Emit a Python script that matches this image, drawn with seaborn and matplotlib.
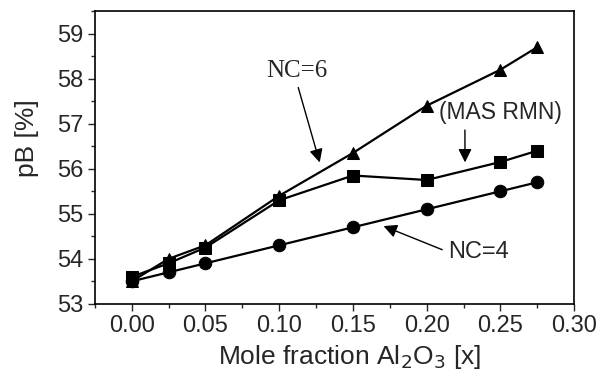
import matplotlib
matplotlib.use("Agg")
import matplotlib.pyplot as plt
import seaborn as sns
import pandas as pd
from matplotlib.ticker import MultipleLocator

x_vals = [0.0, 0.025, 0.05, 0.10, 0.15, 0.20, 0.25, 0.275]
nc6 = [53.5, 54.0, 54.3, 55.4, 56.35, 57.4, 58.2, 58.7]
mas = [53.6, 53.9, 54.25, 55.3, 55.85, 55.75, 56.15, 56.4]
nc4 = [53.5, 53.7, 53.9, 54.3, 54.7, 55.1, 55.5, 55.7]
x_ticks = [0.00, 0.05, 0.10, 0.15, 0.20, 0.25, 0.30]
y_ticks = [53, 54, 55, 56, 57, 58, 59]

sns.set_style("ticks")
plt.rcParams['font.family'] = ['Liberation Sans', 'DejaVu Sans']

df = pd.concat([
    pd.DataFrame({"x": x_vals, "y": nc6, "s": "NC=6"}),
    pd.DataFrame({"x": x_vals, "y": mas, "s": "MAS"}),
    pd.DataFrame({"x": x_vals, "y": nc4, "s": "NC=4"}),
])

fig = plt.figure(figsize=(6, 3.71), dpi=100)
ax = fig.add_axes([0.158, 0.181, 0.799, 0.789])

markers = {"NC=6": "^", "MAS": "s", "NC=4": "o"}
sns.lineplot(data=df, x="x", y="y", hue="s", style="s", markers=markers,
             dashes=False, palette={"NC=6": "black", "MAS": "black", "NC=4": "black"},
             markersize=9, markeredgecolor="black", linewidth=1.6, legend=False, ax=ax)

ax.set_xlim(-0.025, 0.30)
ax.set_ylim(53, 59.5)
ax.set_xticks(x_ticks)
ax.set_xticklabels([f"{t:.2f}" for t in x_ticks])
ax.set_yticks(y_ticks)
ax.xaxis.set_minor_locator(MultipleLocator(0.025))
ax.yaxis.set_minor_locator(MultipleLocator(0.5))
ax.tick_params(axis="both", which="major", labelsize=17, direction="out", length=5, width=1, pad=3)
ax.tick_params(axis="both", which="minor", direction="out", length=3, width=1)
for sp in ax.spines.values():
    sp.set_linewidth(1.2)
    sp.set_color("black")

ax.set_xlabel("Mole fraction Al$_2$O$_3$ [x]", fontsize=19)
ax.set_ylabel("pB [%]", fontsize=19)
ax.xaxis.set_label_coords(0.532, -0.18)
ax.yaxis.set_label_coords(-0.142, 0.567)
ax.xaxis.label.set_va("center")
ax.yaxis.label.set_va("center")

ax.annotate("NC=6", xy=(0.128, 56.08), xytext=(0.091, 58.18), fontsize=18,
            family="Liberation Serif", ha="left", va="center",
            arrowprops=dict(arrowstyle="-|>", color="black", lw=1.0, mutation_scale=20,
                            relpos=(0.5, 0.0)))
ax.annotate("(MAS RMN)", xy=(0.226, 56.08), xytext=(0.2084, 57.25), fontsize=16.5,
            ha="left", va="center",
            arrowprops=dict(arrowstyle="-|>", color="black", lw=1.0, mutation_scale=20,
                            relpos=(0.21, 0.0)))
ax.annotate("NC=4", xy=(0.169, 54.75), xytext=(0.2145, 54.15), fontsize=17,
            ha="left", va="center",
            arrowprops=dict(arrowstyle="-|>", color="black", lw=1.0, mutation_scale=20,
                            relpos=(0.0, 0.5)))

fig.savefig("out.png", dpi=100)
